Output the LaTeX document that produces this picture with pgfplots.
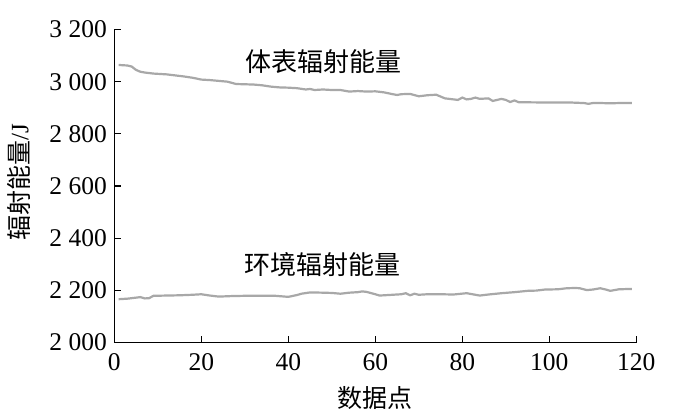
\documentclass[border=0pt]{standalone}
\usepackage{pgfplots}
\pgfplotsset{compat=1.18}
\usepackage{fontspec}
\setmainfont{Liberation Serif}
\newfontfamily\cjk{Noto Sans CJK SC}
\definecolor{linegray}{RGB}{168,168,168}
\begin{document}
\begin{tikzpicture}
\path[use as bounding box] (-114.3bp,-68.3bp) rectangle (585.7bp,342.5bp);
\begin{axis}[
  scale only axis,
  width=522bp, height=313bp,
  xmin=0, xmax=120, ymin=2000, ymax=3200,
  axis lines=left,
  axis line style={-, line width=1.3bp, black},
  xtick={0,20,...,120},
  ytick={2000,2200,...,3200},
  tick align=inside,
  major tick length=7bp,
  tick style={line width=1.3bp, black},
  /pgf/number format/assume math mode=true,
  /pgf/number format/1000 sep={\ },
  ticklabel style={font=\fontsize{25.5bp}{28bp}\selectfont},
  xticklabel style={yshift=-8bp},
  yticklabel style={xshift=-4bp},
  xlabel={\cjk 数据点},
  ylabel={{\cjk 辐射能量}{\rmfamily /J}},
  every axis x label/.style={at={(axis description cs:0.5,-0.1767)}, anchor=center, font=\fontsize{25bp}{28bp}\selectfont},
  every axis y label/.style={at={(axis description cs:-0.1826,0.512)}, anchor=center, rotate=90, font=\fontsize{25bp}{28bp}\selectfont},
  clip=false,
]
\addplot[linegray, line width=2.2bp] coordinates {
(1,3064) (2,3063) (3,3062) (4,3058) (5,3045) (6,3038) (7,3035) (8,3033) (9,3031) (10,3030)
(12,3028) (14,3024) (16,3020) (18,3015) (20,3008) (22,3006) (24,3003) (26,3000) (28,2991)
(30,2990) (32,2989) (34,2986) (36,2981) (38,2978) (40,2977) (42,2975) (44,2970) (45,2972)
(46,2968) (48,2970) (50,2968) (52,2968) (54,2962) (56,2964) (58,2962) (60,2963) (62,2959)
(64,2952) (65,2949) (66,2952) (68,2953) (70,2944) (72,2948) (74,2950) (76,2936) (78,2932)
(79,2930) (80,2939) (81,2932) (82,2934) (83,2939) (84,2934) (86,2936) (87,2926) (88,2930)
(89,2934) (90,2930) (91,2922) (92,2928) (93,2921) (94,2921) (100,2920) (105,2920) (108,2918)
(109,2915) (110,2918) (112,2918) (114,2917) (116,2918) (118,2918) (119,2918)
};
\addplot[linegray, line width=2.2bp] coordinates {
(1,2166) (3,2168) (5,2172) (6,2174) (7,2169) (8,2170) (9,2179) (12,2180) (15,2181) (18,2183)
(20,2185) (22,2180) (24,2176) (27,2178) (30,2179) (34,2179) (37,2179) (40,2175) (42,2182)
(43,2187) (45,2192) (48,2191) (50,2190) (52,2187) (54,2191) (56,2193) (57,2196) (58,2194)
(60,2185) (61,2180) (63,2182) (65,2184) (66,2185) (67,2189) (68,2181) (69,2187) (70,2183)
(72,2185) (75,2185) (78,2184) (81,2189) (84,2180) (86,2184) (89,2189) (92,2193) (95,2198)
(97,2199) (99,2203) (102,2204) (104,2208) (106,2209) (107,2208) (108.6,2201) (110,2203)
(111.7,2208) (113,2203) (114,2198) (116,2204) (118,2205) (119,2205)
};
\node[font=\cjk\fontsize{26bp}{28bp}\selectfont] at (axis cs:48,3075) {体表辐射能量};
\node[font=\cjk\fontsize{26bp}{28bp}\selectfont] at (axis cs:47.8,2298) {环境辐射能量};
\end{axis}
\end{tikzpicture}
\end{document}
